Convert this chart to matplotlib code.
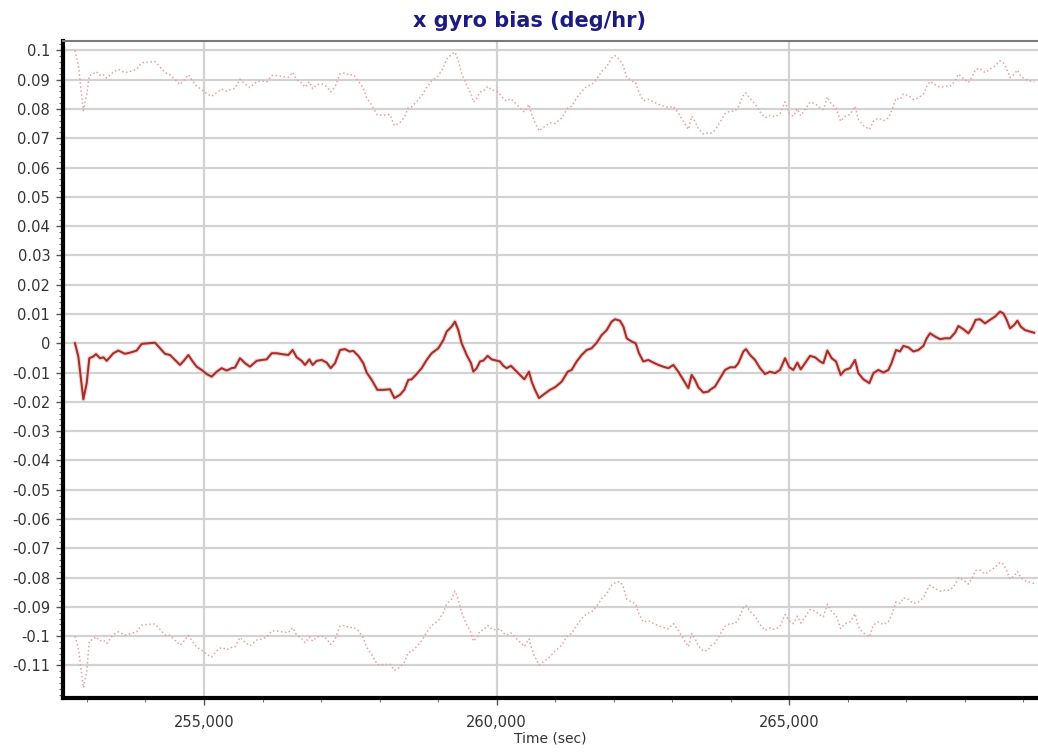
import numpy as np
import matplotlib.pyplot as plt
from matplotlib.ticker import MultipleLocator, FuncFormatter

# time (sec) and estimated x gyro bias (deg/hr)
time_sec = [
    252795, 252852, 252938, 252995, 253040, 253109, 253154, 253223, 253280, 253337,
    253451, 253536, 253650, 253735, 253849, 253935, 254049, 254163, 254248, 254334,
    254419, 254504, 254590, 254658, 254732, 254806, 254875, 254960, 255046, 255131,
    255217, 255302, 255388, 255473, 255530, 255615, 255701, 255786, 255900, 255986,
    256071, 256157, 256242, 256328, 256441, 256515, 256584, 256669, 256726, 256800,
    256857, 256926, 257011, 257097, 257165, 257239, 257324, 257410, 257484, 257552,
    257638, 257723, 257780, 257866, 257963, 258065, 258179,
    258253, 258349, 258423, 258492, 258549, 258634, 258720, 258805, 258891, 259005,
    259090, 259147, 259232, 259289, 259346, 259403, 259489, 259563, 259603, 259660,
    259717, 259774, 259848, 259916, 260001, 260058, 260115, 260172, 260246, 260315,
    260400, 260474, 260554, 260600, 260657, 260725, 260816, 260913, 261000, 261113,
    261215, 261283, 261369, 261454, 261540, 261625, 261711, 261796, 261882, 261967,
    262024, 262109, 262167, 262224, 262309, 262377, 262434, 262508, 262594, 262679,
    262765, 262850, 262936, 263021, 263106, 263192, 263277, 263334, 263391, 263448,
    263533, 263619,
    263648, 263733, 263819, 263904, 263990, 264075, 264132, 264218, 264263, 264332,
    264417, 264503, 264588, 264673, 264759, 264844, 264930, 265004, 265072, 265141,
    265198, 265272, 265357, 265443, 265528, 265585, 265653, 265727, 265801, 265881,
    265955, 266041, 266126, 266183, 266269, 266371, 266440, 266525, 266610, 266696,
    266753, 266827, 266895, 266952, 267038, 267123, 267209, 267294, 267351, 267408,
    267494, 267579, 267665, 267750, 267835, 267892, 267978, 268063, 268120, 268188,
    268262, 268348, 268433, 268518, 268604, 268661, 268718, 268775, 268844, 268901,
    268958, 269031, 269117, 269186,
]
bias = [
    0.0000, -0.0045, -0.0191, -0.0136, -0.0051, -0.0045, -0.0037, -0.0051, -0.0048, -0.0060,
    -0.0034, -0.0025, -0.0036, -0.0032, -0.0025, -0.0002, 0.0000, 0.0002, -0.0017, -0.0036,
    -0.0040, -0.0057, -0.0074, -0.0059, -0.0040, -0.0062, -0.0080, -0.0091, -0.0105, -0.0114,
    -0.0097, -0.0085, -0.0093, -0.0085, -0.0083, -0.0051, -0.0068, -0.0080, -0.0060, -0.0057,
    -0.0055, -0.0034, -0.0034, -0.0037, -0.0040, -0.0023, -0.0048, -0.0060, -0.0074, -0.0055,
    -0.0074, -0.0060, -0.0057, -0.0066, -0.0085, -0.0068, -0.0023, -0.0020, -0.0028, -0.0026,
    -0.0043, -0.0068, -0.0100, -0.0125, -0.0159, -0.0159, -0.0157,
    -0.0187, -0.0176, -0.0159, -0.0125, -0.0123, -0.0105, -0.0085, -0.0057, -0.0034, -0.0017,
    0.0011, 0.0040, 0.0057, 0.0074, 0.0045, 0.0000, -0.0040, -0.0068, -0.0097, -0.0085,
    -0.0062, -0.0059, -0.0043, -0.0055, -0.0059, -0.0062, -0.0077, -0.0085, -0.0077, -0.0091,
    -0.0108, -0.0123, -0.0097, -0.0131, -0.0159, -0.0187, -0.0173, -0.0159, -0.0150, -0.0131,
    -0.0097, -0.0091, -0.0062, -0.0040, -0.0023, -0.0017, 0.0002, 0.0028, 0.0045, 0.0074,
    0.0082, 0.0077, 0.0057, 0.0017, 0.0006, 0.0000, -0.0034, -0.0062, -0.0057, -0.0066,
    -0.0074, -0.0080, -0.0085, -0.0074, -0.0097, -0.0125, -0.0153, -0.0108, -0.0125, -0.0150,
    -0.0168, -0.0165,
    -0.0159, -0.0148, -0.0119, -0.0091, -0.0082, -0.0082, -0.0068, -0.0028, -0.0020, -0.0040,
    -0.0057, -0.0085, -0.0105, -0.0097, -0.0102, -0.0091, -0.0051, -0.0082, -0.0091, -0.0066,
    -0.0089, -0.0068, -0.0043, -0.0048, -0.0062, -0.0068, -0.0025, -0.0051, -0.0062, -0.0108,
    -0.0091, -0.0085, -0.0057, -0.0102, -0.0123, -0.0136, -0.0102, -0.0091, -0.0100, -0.0091,
    -0.0066, -0.0023, -0.0028, -0.0009, -0.0014, -0.0028, -0.0023, -0.0009, 0.0017, 0.0034,
    0.0023, 0.0014, 0.0017, 0.0017, 0.0036, 0.0059, 0.0048, 0.0034, 0.0051, 0.0080,
    0.0082, 0.0068, 0.0080, 0.0091, 0.0108, 0.0102, 0.0080, 0.0051, 0.0062, 0.0077,
    0.0057, 0.0045, 0.0040, 0.0036,
]
# half-width of the uncertainty envelope (deg/hr), read at the same times
sigma = [
    0.1000, 0.0995, 0.0985, 0.0985, 0.0965, 0.0965, 0.0965, 0.0965, 0.0965, 0.0965,
    0.0960, 0.0960, 0.0960, 0.0960, 0.0960, 0.0960, 0.0960, 0.0960, 0.0960, 0.0960,
    0.0957, 0.0957, 0.0957, 0.0957, 0.0957, 0.0957, 0.0957, 0.0957, 0.0957, 0.0957,
    0.0953, 0.0953, 0.0953, 0.0953, 0.0953, 0.0953, 0.0953, 0.0953, 0.0953, 0.0953,
    0.0948, 0.0948, 0.0948, 0.0948, 0.0948, 0.0948, 0.0948, 0.0948, 0.0948, 0.0948,
    0.0943, 0.0943, 0.0943, 0.0943, 0.0943, 0.0943, 0.0943, 0.0943, 0.0943, 0.0943,
    0.0938, 0.0938, 0.0938, 0.0938, 0.0938, 0.0938, 0.0938,
    0.0930, 0.0930, 0.0930, 0.0930, 0.0930, 0.0930, 0.0930, 0.0930, 0.0930, 0.0930,
    0.0930, 0.0930, 0.0930, 0.0920, 0.0920, 0.0920, 0.0920, 0.0920, 0.0920, 0.0920,
    0.0920, 0.0920, 0.0920, 0.0920, 0.0920, 0.0912, 0.0912, 0.0912, 0.0912, 0.0912,
    0.0912, 0.0912, 0.0912, 0.0912, 0.0912, 0.0912, 0.0912, 0.0912, 0.0900, 0.0900,
    0.0900, 0.0900, 0.0900, 0.0900, 0.0900, 0.0900, 0.0900, 0.0900, 0.0900, 0.0900,
    0.0900, 0.0890, 0.0890, 0.0890, 0.0890, 0.0890, 0.0890, 0.0890, 0.0890, 0.0890,
    0.0890, 0.0890, 0.0890, 0.0883, 0.0883, 0.0883, 0.0883, 0.0883, 0.0883, 0.0883,
    0.0883, 0.0883,
    0.0875, 0.0875, 0.0875, 0.0875, 0.0875, 0.0875, 0.0875, 0.0875, 0.0875, 0.0875,
    0.0875, 0.0875, 0.0875, 0.0875, 0.0875, 0.0875, 0.0875, 0.0866, 0.0866, 0.0866,
    0.0866, 0.0866, 0.0866, 0.0866, 0.0866, 0.0866, 0.0866, 0.0866, 0.0866, 0.0866,
    0.0866, 0.0866, 0.0866, 0.0866, 0.0866, 0.0866, 0.0860, 0.0860, 0.0860, 0.0860,
    0.0860, 0.0860, 0.0860, 0.0860, 0.0860, 0.0860, 0.0860, 0.0860, 0.0860, 0.0860,
    0.0860, 0.0860, 0.0860, 0.0860, 0.0860, 0.0860, 0.0856, 0.0856, 0.0856, 0.0856,
    0.0856, 0.0856, 0.0856, 0.0856, 0.0856, 0.0856, 0.0856, 0.0856, 0.0856, 0.0856,
    0.0856, 0.0856, 0.0856, 0.0856,
]
y_ticks = [0.1, 0.09, 0.08, 0.07, 0.06, 0.05, 0.04, 0.03, 0.02, 0.01, 0.0,
           -0.01, -0.02, -0.03, -0.04, -0.05, -0.06, -0.07, -0.08, -0.09, -0.1, -0.11]

t = np.array(time_sec)
b = np.array(bias)
s = np.array(sigma)

fig = plt.figure(figsize=(10.38, 7.52), dpi=100)
ax = fig.add_axes([0.0604, 0.0718, 0.9396, 0.8741])

ax.plot(t, b + s, color='#e8a0a0', lw=1.1, ls=':')
ax.plot(t, b - s, color='#e8a0a0', lw=1.1, ls=':')
ax.plot(t, b, color='#f0b0b0', lw=3.2, alpha=0.5)
ax.plot(t, b, color='#a3302b', lw=1.5)

ax.set_xlim(252585, 269253)
ax.set_ylim(-0.1211, 0.1033)

ax.xaxis.set_major_locator(MultipleLocator(5000))
ax.xaxis.set_minor_locator(MultipleLocator(1000))
ax.set_yticks(y_ticks)
ax.yaxis.set_minor_locator(MultipleLocator(0.002))
ax.xaxis.set_major_formatter(FuncFormatter(lambda v, p: f"{v:,.0f}"))
ax.yaxis.set_major_formatter(FuncFormatter(lambda v, p: f"{round(v, 2):g}" if abs(v) > 1e-9 else "0"))

ax.grid(True, which='major', color='#d2d2d2', lw=1.6)
ax.set_axisbelow(True)

for side in ['left', 'bottom']:
    ax.spines[side].set_linewidth(3)
    ax.spines[side].set_color('black')
ax.spines['top'].set_color('#7a7a7a')
ax.spines['top'].set_linewidth(1.5)
ax.spines['right'].set_visible(False)

ax.tick_params(axis='both', which='major', length=5, width=1, color='#555555',
               labelsize=10.5, labelcolor='#333333')
ax.tick_params(axis='x', which='major', pad=7)
ax.tick_params(axis='y', which='major', pad=4)
ax.tick_params(axis='both', which='minor', length=3, width=0.8, color='#777777')

ax.set_xlabel('Time (sec)', fontsize=10, color='#333333', labelpad=1)
fig.text(0.51, 0.972, 'x gyro bias (deg/hr)', ha='center', va='center',
         fontsize=15, fontweight='bold', color='#1c1c80')

fig.savefig('out.png', dpi=100)
